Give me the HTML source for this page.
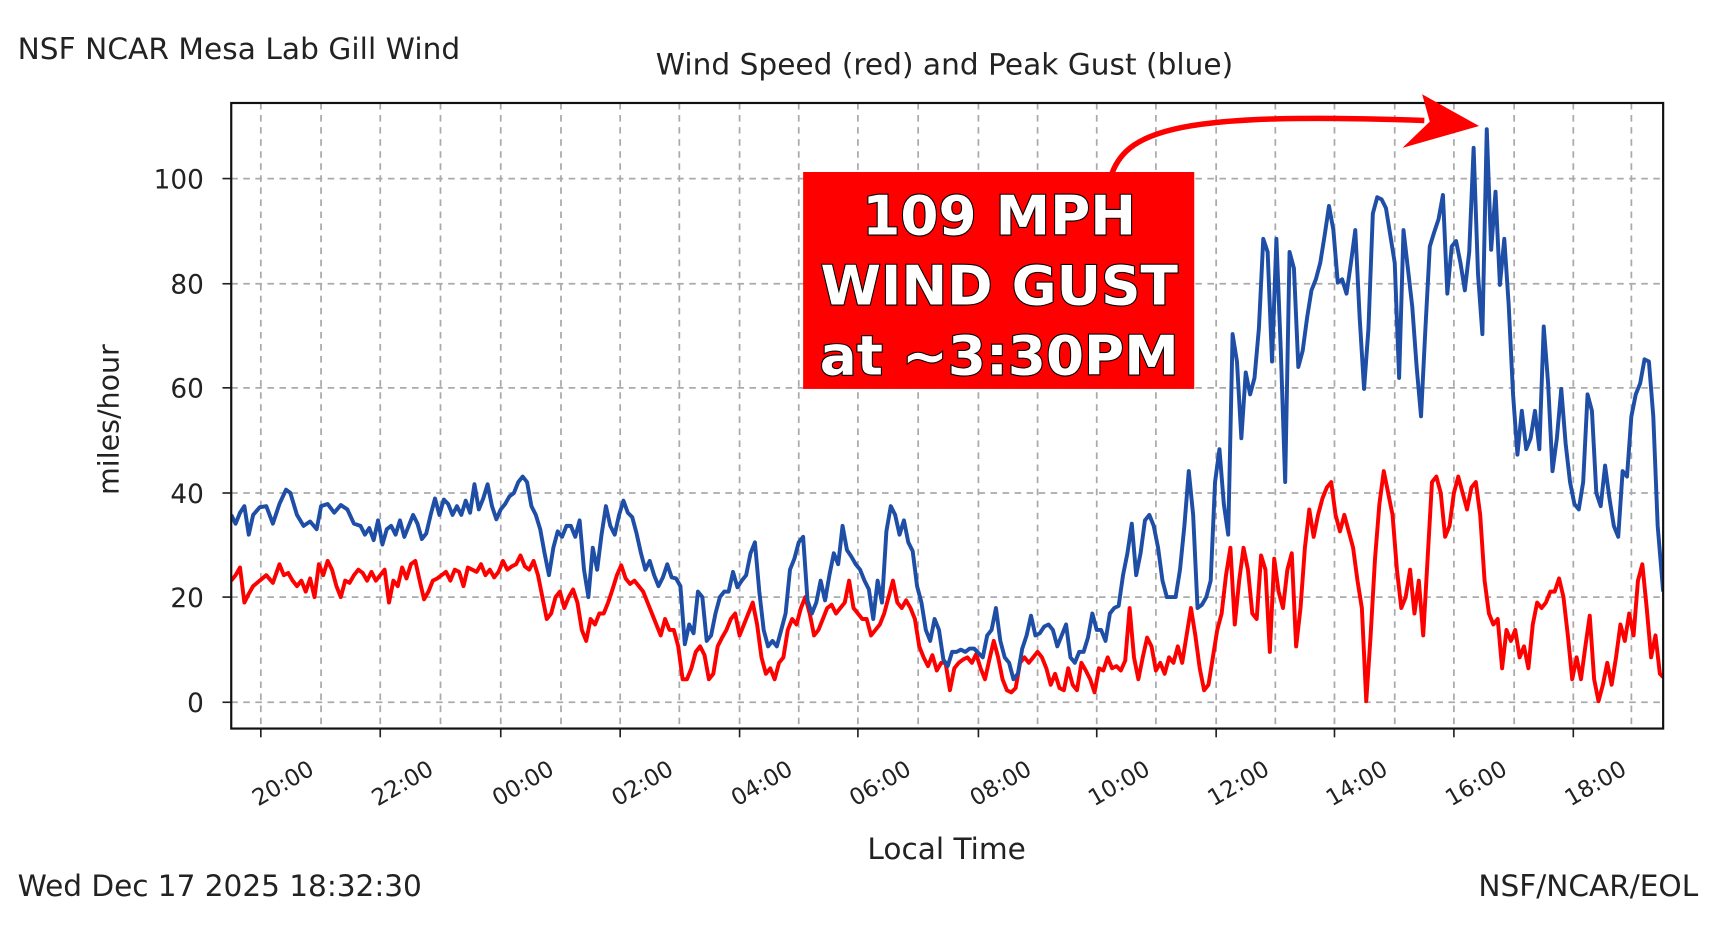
<!DOCTYPE html>
<html><head><meta charset="utf-8"><style>
html,body{margin:0;padding:0;background:#fff;}
svg{display:block;}
text{font-family:"DejaVu Sans","Liberation Sans",sans-serif;fill:#222;}
</style></head><body>
<svg width="1718" height="940" viewBox="0 0 1568 858" xmlns="http://www.w3.org/2000/svg">
<rect width="1568" height="858" fill="#fff"/>
<text x="16" y="54" font-size="27" textLength="404">NSF NCAR Mesa Lab Gill Wind</text>
<text x="862" y="68" font-size="27" text-anchor="middle" textLength="527">Wind Speed (red) and Peak Gust (blue)</text>
<g stroke="#aaa" stroke-width="1.6" stroke-dasharray="6,5">
<line x1="238" y1="94" x2="238" y2="665"/><line x1="293" y1="94" x2="293" y2="665"/><line x1="347" y1="94" x2="347" y2="665"/><line x1="402" y1="94" x2="402" y2="665"/><line x1="457" y1="94" x2="457" y2="665"/><line x1="512" y1="94" x2="512" y2="665"/><line x1="566" y1="94" x2="566" y2="665"/><line x1="620" y1="94" x2="620" y2="665"/><line x1="675" y1="94" x2="675" y2="665"/><line x1="729" y1="94" x2="729" y2="665"/><line x1="783" y1="94" x2="783" y2="665"/><line x1="838" y1="94" x2="838" y2="665"/><line x1="893" y1="94" x2="893" y2="665"/><line x1="947" y1="94" x2="947" y2="665"/><line x1="1001" y1="94" x2="1001" y2="665"/><line x1="1055" y1="94" x2="1055" y2="665"/><line x1="1110" y1="94" x2="1110" y2="665"/><line x1="1164" y1="94" x2="1164" y2="665"/><line x1="1218" y1="94" x2="1218" y2="665"/><line x1="1273" y1="94" x2="1273" y2="665"/><line x1="1327" y1="94" x2="1327" y2="665"/><line x1="1382" y1="94" x2="1382" y2="665"/><line x1="1436" y1="94" x2="1436" y2="665"/><line x1="1489" y1="94" x2="1489" y2="665"/>
<line x1="211" y1="163" x2="1518" y2="163"/><line x1="211" y1="259" x2="1518" y2="259"/><line x1="211" y1="354" x2="1518" y2="354"/><line x1="211" y1="450" x2="1518" y2="450"/><line x1="211" y1="545" x2="1518" y2="545"/><line x1="211" y1="641" x2="1518" y2="641"/>
</g>
<g font-size="24" text-anchor="end">
<text x="186" y="172">100</text><text x="186" y="268">80</text><text x="186" y="363">60</text><text x="186" y="459">40</text><text x="186" y="554">20</text><text x="186" y="650">0</text>
</g>
<g stroke="#222" stroke-width="1.5">
<line x1="203" y1="163" x2="211" y2="163"/><line x1="203" y1="259" x2="211" y2="259"/><line x1="203" y1="354" x2="211" y2="354"/><line x1="203" y1="450" x2="211" y2="450"/><line x1="203" y1="545" x2="211" y2="545"/><line x1="203" y1="641" x2="211" y2="641"/>
<line x1="238" y1="665" x2="238" y2="673"/><line x1="347" y1="665" x2="347" y2="673"/><line x1="457" y1="665" x2="457" y2="673"/><line x1="566" y1="665" x2="566" y2="673"/><line x1="675" y1="665" x2="675" y2="673"/><line x1="783" y1="665" x2="783" y2="673"/><line x1="893" y1="665" x2="893" y2="673"/><line x1="1001" y1="665" x2="1001" y2="673"/><line x1="1110" y1="665" x2="1110" y2="673"/><line x1="1218" y1="665" x2="1218" y2="673"/><line x1="1327" y1="665" x2="1327" y2="673"/><line x1="1436" y1="665" x2="1436" y2="673"/>
</g>
<g font-size="21" text-anchor="end">
<text transform="translate(288,706) rotate(-30)">20:00</text>
<text transform="translate(397,706) rotate(-30)">22:00</text>
<text transform="translate(507,706) rotate(-30)">00:00</text>
<text transform="translate(616,706) rotate(-30)">02:00</text>
<text transform="translate(725,706) rotate(-30)">04:00</text>
<text transform="translate(833,706) rotate(-30)">06:00</text>
<text transform="translate(943,706) rotate(-30)">08:00</text>
<text transform="translate(1051,706) rotate(-30)">10:00</text>
<text transform="translate(1160,706) rotate(-30)">12:00</text>
<text transform="translate(1268,706) rotate(-30)">14:00</text>
<text transform="translate(1377,706) rotate(-30)">16:00</text>
<text transform="translate(1486,706) rotate(-30)">18:00</text>
</g>
<text transform="translate(108,383) rotate(-90)" font-size="26" text-anchor="middle">miles/hour</text>
<text x="864" y="784" font-size="27" text-anchor="middle">Local Time</text>
<text x="16" y="818" font-size="27" textLength="369">Wed Dec 17 2025 18:32:30</text>
<text x="1550" y="818" font-size="27" text-anchor="end">NSF/NCAR/EOL</text>
<svg x="211" y="94" width="1307" height="571" viewBox="211 94 1307 571" overflow="hidden">
<polyline fill="none" stroke="#f00" stroke-width="3.6" stroke-linejoin="round" points="211,530 215,525 219,518 223,550 227,542 231,535 237,530 243,525 249,532 255,515 259,525 263,523 267,530 271,535 275,530 279,540 283,528 287,545 291,515 295,525 299,512 303,520 307,535 311,545 315,530 319,532 323,525 327,520 331,523 335,530 339,522 343,530 347,525 351,520 355,550 359,530 363,535 367,518 371,528 375,515 379,512 383,530 387,547 391,540 395,530 399,528 403,525 407,522 411,530 415,520 419,522 423,535 427,518 431,520 435,522 439,515 443,525 447,520 451,527 455,522 459,512 463,520 467,517 471,515 475,507 479,517 483,520 487,512 491,525 495,545 499,565 503,560 507,545 511,540 515,555 519,545 523,538 527,550 531,575 535,585 539,565 543,570 547,560 551,560 555,550 559,538 563,525 567,516 571,528 575,533 579,530 583,535 587,540 591,550 595,560 599,570 603,580 607,565 611,575 615,575 619,590 623,620 627,620 631,610 635,595 639,590 643,598 647,620 651,615 655,590 659,582 663,575 667,565 671,560 675,580 679,570 683,560 687,550 691,570 695,600 699,615 703,610 707,620 711,605 715,600 719,575 723,565 727,570 731,555 735,545 739,560 743,580 747,575 751,565 755,555 759,552 763,560 767,555 771,550 775,530 779,555 783,560 787,565 791,565 795,580 799,575 803,570 807,560 811,545 815,530 819,550 823,555 827,548 831,555 835,565 839,590 843,600 847,608 851,598 855,612 859,605 863,605 867,630 871,610 875,605 879,602 883,600 887,605 891,597 895,610 899,620 903,602 907,585 911,600 915,620 919,630 923,632 927,628 931,605 935,600 939,605 943,600 947,595 951,600 955,610 959,625 963,615 967,628 971,630 975,610 979,625 983,630 987,605 991,612 995,620 999,632 1003,610 1007,612 1011,600 1015,610 1019,608 1023,612 1027,603 1031,555 1035,600 1039,620 1043,600 1047,582 1051,590 1055,612 1059,605 1063,615 1067,600 1071,605 1075,590 1079,605 1083,580 1087,555 1091,580 1095,610 1099,630 1103,625 1107,600 1111,575 1115,560 1119,525 1123,500 1127,570 1131,530 1135,500 1139,520 1143,560 1147,565 1151,507 1155,520 1159,595 1163,510 1167,540 1171,555 1175,520 1179,505 1183,590 1187,555 1191,500 1195,465 1199,490 1203,470 1207,455 1211,445 1215,440 1219,470 1223,485 1227,470 1231,485 1235,500 1239,530 1243,555 1247,640 1251,580 1255,510 1259,460 1263,430 1267,450 1271,470 1275,520 1279,555 1283,545 1287,520 1291,560 1295,530 1299,580 1303,510 1307,440 1311,435 1315,450 1319,490 1323,480 1327,450 1331,435 1335,450 1339,465 1343,445 1347,440 1351,470 1355,530 1359,560 1363,570 1367,565 1371,610 1375,575 1379,585 1383,575 1387,600 1391,590 1395,610 1399,570 1403,550 1407,555 1411,550 1415,540 1419,540 1423,528 1427,545 1431,580 1435,620 1439,600 1443,620 1447,590 1451,562 1455,620 1459,640 1463,625 1467,605 1471,625 1475,600 1479,570 1483,585 1487,560 1491,580 1495,530 1499,515 1503,555 1507,600 1511,580 1515,615 1518,618"/>
<polyline fill="none" stroke="#1f4ea6" stroke-width="3.6" stroke-linejoin="round" points="211,470 215,478 219,468 223,462 227,488 231,470 237,463 243,462 249,478 255,460 261,447 265,450 271,470 277,480 283,476 289,483 293,462 299,460 305,468 311,461 317,465 323,478 329,480 333,488 337,482 341,493 345,475 349,497 353,483 357,480 361,488 365,475 369,490 373,480 377,470 381,478 385,492 389,487 393,470 397,455 401,470 405,456 409,460 413,470 417,462 421,470 425,457 429,468 433,442 437,465 441,455 445,442 449,462 453,474 457,465 461,460 465,453 469,450 473,440 477,435 481,440 485,462 489,470 493,483 497,505 501,525 505,500 509,485 513,490 517,480 521,480 525,490 529,475 533,520 537,545 541,500 545,520 549,488 553,462 557,480 561,488 565,470 569,457 573,468 577,472 581,487 585,505 589,520 593,512 597,525 601,535 605,527 609,515 613,527 617,528 621,535 625,588 629,570 633,578 637,540 641,545 645,585 649,580 653,560 657,545 661,540 665,540 669,522 673,536 677,530 681,525 685,505 689,495 693,540 697,575 701,590 705,585 709,590 713,575 717,560 721,520 725,510 729,495 733,490 737,548 741,560 745,550 749,530 753,548 757,525 761,505 765,515 769,480 773,502 777,508 781,515 785,520 789,530 793,538 797,565 801,530 805,550 809,485 813,462 817,470 821,488 825,475 829,495 833,503 837,535 841,550 845,575 849,585 853,565 857,575 861,602 865,608 869,595 873,595 877,593 881,595 885,592 889,592 893,596 897,600 901,580 905,575 909,555 913,585 917,600 921,605 925,620 929,615 933,592 937,580 941,562 945,580 949,578 953,572 957,570 961,575 965,590 969,580 973,570 977,600 981,605 985,595 989,595 993,582 997,560 1001,575 1005,575 1009,585 1013,560 1017,555 1021,553 1025,525 1029,505 1033,478 1037,525 1041,505 1045,475 1049,470 1053,480 1057,500 1061,530 1065,545 1069,545 1073,545 1077,520 1081,480 1085,430 1089,470 1093,555 1097,552 1101,545 1105,530 1109,440 1113,410 1117,460 1121,488 1125,305 1129,330 1133,400 1137,340 1141,360 1145,345 1149,300 1153,218 1157,230 1161,330 1165,218 1169,320 1173,440 1177,230 1181,245 1185,335 1189,320 1193,290 1197,265 1201,255 1205,240 1209,215 1213,188 1217,210 1221,258 1225,255 1229,268 1233,240 1237,210 1241,290 1245,355 1249,300 1253,195 1257,180 1261,182 1265,190 1269,215 1273,240 1277,345 1281,210 1285,245 1289,280 1293,335 1297,380 1301,300 1305,225 1309,212 1313,200 1317,178 1321,268 1325,225 1329,220 1333,240 1337,265 1341,230 1345,135 1349,250 1353,305 1357,118 1361,228 1365,175 1369,260 1373,218 1377,278 1381,360 1385,415 1389,375 1393,410 1397,400 1401,375 1405,410 1409,298 1413,350 1417,430 1421,400 1425,355 1429,405 1433,440 1437,460 1441,465 1445,440 1449,360 1453,375 1457,450 1461,462 1465,425 1469,455 1473,480 1477,490 1481,430 1485,435 1489,380 1493,360 1497,350 1501,328 1505,330 1509,380 1513,480 1518,540"/>
</svg>
<rect x="211" y="94" width="1307" height="571" fill="none" stroke="#111" stroke-width="2"/>
<rect x="733" y="157" width="357" height="198" fill="#f00"/>
<g font-family="'Liberation Sans',sans-serif" font-weight="bold" font-size="50" text-anchor="middle" stroke="#000" stroke-width="2" paint-order="stroke">
<text x="912" y="214" style="fill:#fff">109 MPH</text>
<text x="912" y="278" style="fill:#fff">WIND GUST</text>
<text x="912" y="342" style="fill:#fff">at ~3:30PM</text>
</g>
<path d="M1015,158 C1030,118 1080,102 1300,110" fill="none" stroke="#f00" stroke-width="5"/>
<polygon points="1350,115 1298,86 1305,111 1280,135" fill="#f00"/>
</svg>
</body></html>
